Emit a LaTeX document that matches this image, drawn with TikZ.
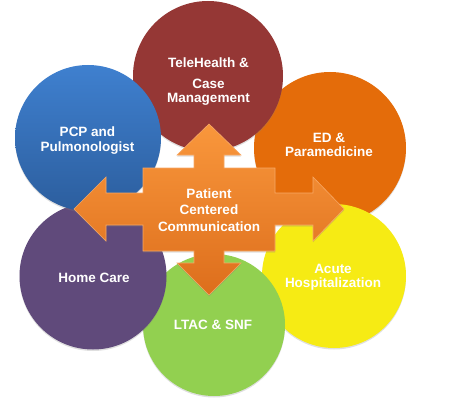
\documentclass[tikz,border=0pt]{standalone}
\usepackage{fontspec}
\setmainfont{Liberation Sans}
\usetikzlibrary{shadows}
\definecolor{cRed}{HTML}{953735}
\definecolor{cOrange}{HTML}{E46C0A}
\definecolor{cYellow}{HTML}{F6EB14}
\definecolor{cGreen}{HTML}{92D050}
\definecolor{cPurple}{HTML}{604A7B}
\definecolor{cBlueTop}{HTML}{3F80CF}
\definecolor{cBlueBot}{HTML}{2C5E9E}
\definecolor{cArrTop}{HTML}{F9973C}
\definecolor{cArrBot}{HTML}{DD6E1C}
\definecolor{cArrLine}{HTML}{F7A865}
\tikzset{
  disc/.style={circle, minimum size=#1, inner sep=0pt, draw=none,
    drop shadow={shadow xshift=0pt, shadow yshift=-1.5pt, opacity=0.25}},
  lbl/.style={text=white, font=\fontsize{13.5}{14}\selectfont\bfseries, align=center, inner sep=0pt, anchor=base},
  clbl/.style={lbl, font=\fontsize{13.5}{16.5}\selectfont\bfseries},
  quadarrow/.style={top color=cArrTop, bottom color=cArrBot, draw=cArrLine, line width=0.6pt, line join=miter,
    drop shadow={shadow xshift=0pt, shadow yshift=-1.5pt, opacity=0.25}}
}
\begin{document}
\begin{tikzpicture}[x=1pt,y=-1pt]
\useasboundingbox (0,0) rectangle (455,401);
% circles (back to front)
\node[disc=152, fill=cOrange] (ed) at (330,148) {};
\node[disc=150, fill=cRed] (tele) at (208,76) {};
\node[disc=144, fill=cYellow] (acute) at (334,276) {};
\node[disc=142, fill=cGreen] (ltac) at (214,325) {};
\node[disc=147, fill=cPurple] (home) at (93,276) {};
\node[disc=146, top color=cBlueTop, bottom color=cBlueBot] (pcp) at (88,138) {};
% four-way arrow
\path[quadarrow] (209,124) -- (241,155) -- (224,155) -- (224,168) -- (275,168) -- (275,193)
  -- (313,193) -- (313,177) -- (344,209) -- (313,241) -- (313,225) -- (275,225) -- (275,251)
  -- (224,251) -- (224,263) -- (241,263) -- (209,295) -- (177,263) -- (194,263) -- (194,251)
  -- (143,251) -- (143,225) -- (106,225) -- (106,241) -- (74,209) -- (106,177) -- (106,193)
  -- (143,193) -- (143,168) -- (194,168) -- (194,155) -- (177,155) -- cycle;
% labels (anchor = baseline of the last line)
\node[lbl] (teleA) at (208.5,68) {TeleHealth \&};
\node[lbl] (teleB) at (208.5,89) {Case};
\node[lbl] (teleC) at (208.5,103) {Management};
\node[lbl] (edL) at (329,157) {ED \&\\Paramedicine};
\node[lbl] (pcpL) at (87.5,151) {PCP and\\Pulmonologist};
\node[lbl] (acuteL) at (333,287) {Acute\\Hospitalization};
\node[lbl] (homeL) at (94,282) {Home Care};
\node[lbl] (ltacL) at (213,329) {LTAC \& SNF};
\node[clbl] (ctrL) at (209,231) {Patient\\Centered\\Communication};
\end{tikzpicture}
\end{document}
